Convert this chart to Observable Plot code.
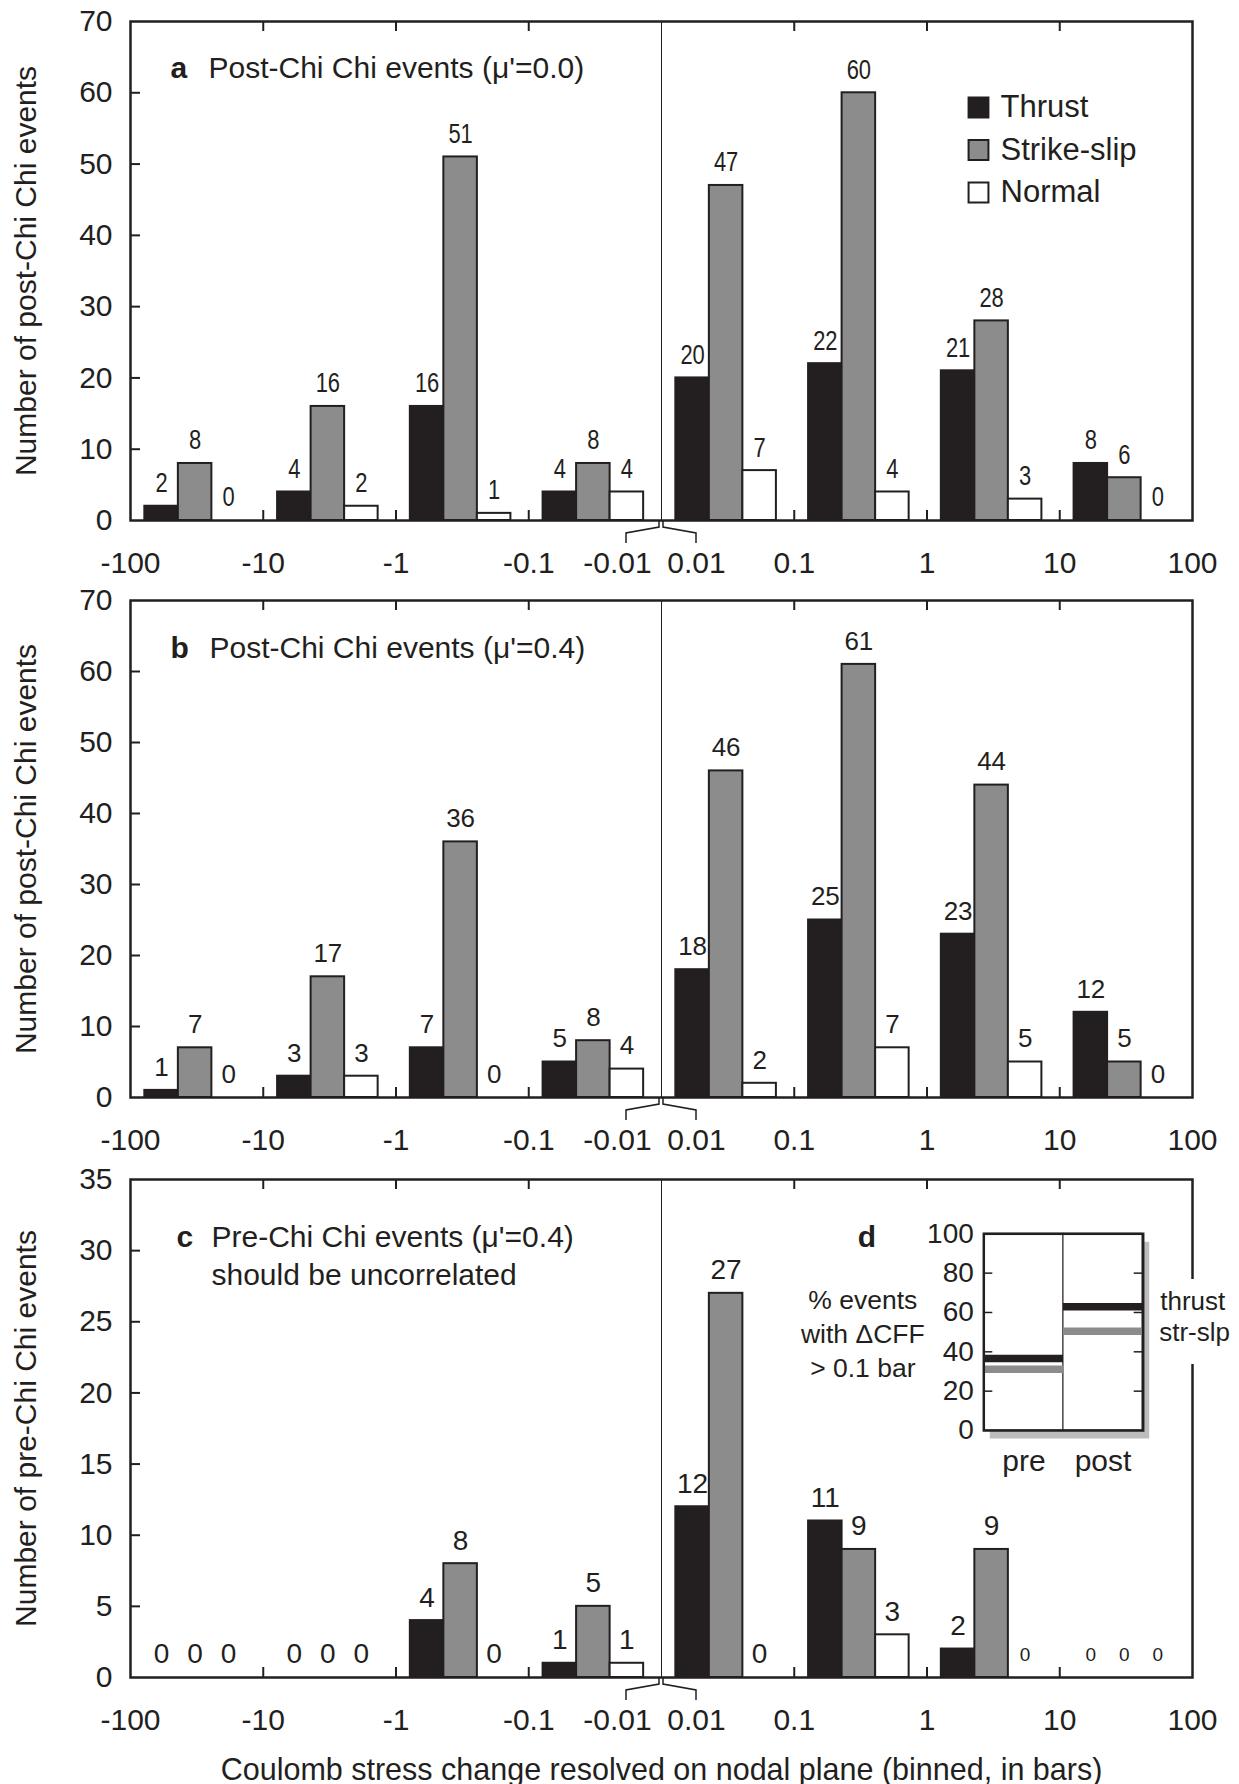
<!DOCTYPE html>
<html><head><meta charset="utf-8">
<script src="https://cdn.jsdelivr.net/npm/d3@7"></script>
<script src="https://cdn.jsdelivr.net/npm/@observablehq/plot@0.6"></script>
<style>
body{margin:0;background:#fff;}
#fig{position:relative;width:1239px;height:1784px;background:#fff;}
#fig svg{position:absolute;left:0;overflow:visible;}
</style></head><body><div id="fig"></div>
<script>
// ---------- data ----------
const bins = ["-100 to -10","-10 to -1","-1 to -0.1","-0.1 to -0.01","0.01 to 0.1","0.1 to 1","1 to 10","10 to 100"];
const types = ["Thrust","Strike-slip","Normal"];
const xTickLabels = ["-100","-10","-1","-0.1","-0.01","0.01","0.1","1","10","100"];

const aThrust = [2,4,16,4,20,22,21,8];
const aStrike = [8,16,51,8,47,60,28,6];
const aNormal = [0,2,1,4,7,4,3,0];

const bThrust = [1,3,7,5,18,25,23,12];
const bStrike = [7,17,36,8,46,61,44,5];
const bNormal = [0,3,0,4,2,7,5,0];

const cThrust = [0,0,4,1,12,11,2,0];
const cStrike = [0,0,8,5,27,9,9,0];
const cNormal = [0,0,0,1,0,3,0,0];

const dPeriods = ["pre","post"];
const dThrustPct = [36.6, 62.9];
const dStrikePct = [31.1, 50.4];

// ---------- styles ----------
const FONT = "'Liberation Sans', Arial, Helvetica, sans-serif";
const CONDENSED_FONT = "'Liberation Sans', Arial, sans-serif";
const INK = "#231f20";
const GRAY = "#8c8c8c";
const fills = {"Thrust": INK, "Strike-slip": GRAY, "Normal": "#ffffff"};
const BAR_OFFSET = 0.108, BAR_W = 0.2525;
const W = 1239, FRAME_LEFT = 130, FRAME_RIGHT = 1192;
const fig = document.getElementById("fig");

function rows(series){
  return bins.flatMap((b,i) => types.map((t,k) => ({bin:i, type:t, k, value: series[k][i]})));
}

function panel(o){
  const data = rows(o.series);
  const frameH = o.height - o.mt - o.mb;
  const frameW = FRAME_RIGHT - FRAME_LEFT;
  const mid = bins.length / 2;
  const x1 = d => d.bin + BAR_OFFSET + d.k * BAR_W;
  const x2 = d => x1(d) + BAR_W;
  const xc = d => x1(d) + BAR_W / 2;
  const yTicks = d3.range(0, o.yMax + 1e-9, o.yStep);
  const xTicks = xTickLabels.map((label, i) => ({label, pos: i <= mid ? i : i - 1, i}));
  const inner = d3.range(1, bins.length).filter(i => i !== mid);
  const small = o.smallZero || (() => false);
  const marks = [
    Plot.rect(data.filter(d => d.value > 0), {x1, x2, y1: 0, y2: "value", fill: d => fills[d.type], stroke: INK, strokeWidth: 2}),
    Plot.ruleX([mid], {stroke: INK, strokeWidth: 1}),
    Plot.ruleX(inner, {insetTop: frameH - 10, stroke: INK, strokeWidth: 2}),
    Plot.ruleX(inner, {insetBottom: frameH - 10, stroke: INK, strokeWidth: 2}),
    Plot.ruleY(yTicks.slice(1, -1), {insetRight: frameW - 10, stroke: INK, strokeWidth: 2}),
    Plot.frame({stroke: INK, strokeWidth: 2.5}),
    // value labels
    Plot.text(data.filter(d => !small(d)), {x: xc, y: "value", text: d => String(d.value),
      fontFamily: o.condensed ? CONDENSED_FONT : FONT,
      textAnchor: "middle", lineAnchor: "middle", fontSize: o.labelSize, fill: INK, dy: -23}),
    Plot.text(data.filter(d => small(d)), {x: xc, y: "value", text: d => String(d.value),
      textAnchor: "middle", lineAnchor: "middle", fontSize: 19, fill: INK, dy: -23}),
    // y tick labels
    Plot.text(yTicks, {y: d => d, text: d => String(d), frameAnchor: "left", dx: -18, textAnchor: "end", lineAnchor: "middle", fontSize: 30, fill: INK}),
    // x tick labels
    Plot.text(xTicks.filter(t => t.pos !== mid), {x: "pos", text: "label", frameAnchor: "bottom", dy: 43, textAnchor: "middle", lineAnchor: "middle", fontSize: 30, fill: INK}),
    Plot.text(xTicks.filter(t => t.i === mid), {x: "pos", text: "label", frameAnchor: "bottom", dy: 43, dx: -44, textAnchor: "middle", lineAnchor: "middle", fontSize: 30, fill: INK}),
    Plot.text(xTicks.filter(t => t.i === mid + 1), {x: "pos", text: "label", frameAnchor: "bottom", dy: 43, dx: 35, textAnchor: "middle", lineAnchor: "middle", fontSize: 30, fill: INK}),
    // y label
    Plot.text([o.yLabel], {frameAnchor: "left", rotate: -90, dx: -104, textAnchor: "middle", lineAnchor: "middle", fontSize: 30, fill: INK}),
    // title
    Plot.text([o.letter], {frameAnchor: "top-left", dx: o.letterDx, dy: o.titleDy, textAnchor: "start", lineAnchor: "middle", fontSize: 30, fontWeight: "bold", fill: INK}),
    ...o.titleLines.map((t, j) => Plot.text([t], {frameAnchor: "top-left", dx: o.titleDx, dy: o.titleDy + j * 38, textAnchor: "start", lineAnchor: "middle", fontSize: 30, fill: INK}))
  ];
  if (o.extra) marks.push(...o.extra);
  const plot = Plot.plot({
    width: W, height: o.height,
    marginLeft: FRAME_LEFT, marginRight: W - FRAME_RIGHT, marginTop: o.mt, marginBottom: o.mb,
    x: {domain: [0, bins.length], axis: null},
    y: {domain: [0, o.yMax], axis: null},
    style: {fontFamily: FONT, fontSize: "30px", color: INK, background: "transparent", overflow: "visible"},
    marks
  });
  plot.style.top = o.top + "px";
  const svg = d3.select(plot);
  // condensed value labels (panel a uses a narrow face)
  if (o.condensed) {
    svg.selectAll("g").filter(function(){ return this.getAttribute("font-family") === CONDENSED_FONT; })
      .selectAll("text").each(function(){
        const n = this.textContent.length;
        d3.select(this).attr("textLength", n * o.condensed).attr("lengthAdjust", "spacingAndGlyphs");
      });
  }
  // bracket marks at the broken centre of the axis
  const sx = plot.scale("x").apply(mid);
  const yb = o.height - o.mb;
  svg.append("path")
    .attr("d", `M${sx-35},${yb+23}V${yb+13}L${sx-2},${yb+7}V${yb+1}M${sx+2},${yb+1}V${yb+7}L${sx+35},${yb+13}V${yb+23}`)
    .attr("fill", "none").attr("stroke", INK).attr("stroke-width", 1.5);
  fig.appendChild(plot);
  return plot;
}

// legend (panel a)
const legendMarks = types.flatMap((t, j) => [
  Plot.dot([t], {frameAnchor: "top-left", dx: 848, dy: 86 + j * 42.5, symbol: "square", r: 11.2, fill: fills[t], stroke: INK, strokeWidth: 2}),
  Plot.text([t], {frameAnchor: "top-left", dx: 870, dy: 86 + j * 42.5, textAnchor: "start", lineAnchor: "middle", fontSize: 31, fill: INK})
]);

panel({top: 0, height: 585, mt: 21, mb: 65, yMax: 70, yStep: 10,
  series: [aThrust, aStrike, aNormal], labelSize: 28, condensed: 12.2,
  yLabel: "Number of post-Chi Chi events", letter: "a", letterDx: 40, titleDx: 78, titleDy: 47,
  titleLines: ["Post-Chi Chi events (μ'=0.0)"], extra: legendMarks});

panel({top: 585, height: 575, mt: 15, mb: 63, yMax: 70, yStep: 10,
  series: [bThrust, bStrike, bNormal], labelSize: 26,
  yLabel: "Number of post-Chi Chi events", letter: "b", letterDx: 40, titleDx: 79, titleDy: 48,
  titleLines: ["Post-Chi Chi events (μ'=0.4)"]});

const cSmallZeroFromBin = 6;
panel({top: 1160, height: 624, mt: 19, mb: 107, yMax: 35, yStep: 5,
  series: [cThrust, cStrike, cNormal], labelSize: 28,
  smallZero: d => d.value === 0 && d.bin >= cSmallZeroFromBin,
  yLabel: "Number of pre-Chi Chi events", letter: "c", letterDx: 46, titleDx: 81, titleDy: 58,
  titleLines: ["Pre-Chi Chi events (μ'=0.4)", "should be uncorrelated"],
  extra: [Plot.text(["Coulomb stress change resolved on nodal plane (binned, in bars)"], {frameAnchor: "bottom", dy: 93, textAnchor: "middle", lineAnchor: "middle", fontSize: 30.5, fill: INK})]});

// ---------- inset d ----------
const dRows = dPeriods.flatMap((p, i) => [
  {period: p, type: "thrust", pct: dThrustPct[i]},
  {period: p, type: "str-slp", pct: dStrikePct[i]}
]);
const IL = 820, IT = 1200, IW = 419, IH = 280;
const iml = 983.3 - IL, imr = IL + IW - 1142.7, imt = 1233.3 - IT, imb = IT + IH - 1430;
const iFrameW = IW - iml - imr;
const inset = Plot.plot({
  width: IW, height: IH, marginLeft: iml, marginRight: imr, marginTop: imt, marginBottom: imb,
  x: {domain: dPeriods, padding: 0, axis: null},
  y: {domain: [0, 100], axis: null},
  style: {fontFamily: FONT, fontSize: "28px", color: INK, background: "transparent", overflow: "visible"},
  marks: [
    Plot.frame({fill: "#bdbdbd", stroke: "none", dx: 6, dy: 8}),
    Plot.frame({fill: "#ffffff", stroke: "none"}),
    Plot.barY(dPeriods, {x: d => d, y1: 0, y2: 100, fill: "#ffffff", stroke: INK, strokeWidth: 1}),
    Plot.ruleY([20, 40, 60, 80], {insetRight: iFrameW - 9, stroke: INK, strokeWidth: 1.5}),
    Plot.ruleY([20, 40, 60, 80], {insetLeft: iFrameW - 9, stroke: INK, strokeWidth: 1.5}),
    Plot.tickY(dRows, {x: "period", y: "pct", stroke: d => d.type === "thrust" ? INK : GRAY, strokeWidth: 7.5}),
    Plot.frame({stroke: INK, strokeWidth: 2.5}),
    Plot.text([0, 20, 40, 60, 80, 100], {y: d => d, text: d => String(d), frameAnchor: "left", dx: -10, textAnchor: "end", lineAnchor: "middle", fontSize: 28, fill: INK}),
    Plot.text(dPeriods, {x: d => d, text: d => d, frameAnchor: "bottom", dy: 31, textAnchor: "middle", lineAnchor: "middle", fontSize: 30, fill: INK}),
    Plot.text(["d"], {frameAnchor: "top-left", dx: -117, dy: 4, textAnchor: "middle", lineAnchor: "middle", fontSize: 30, fontWeight: "bold", fill: INK}),
    Plot.text(["% events\nwith ΔCFF\n> 0.1 bar"], {frameAnchor: "top-left", dx: -121, dy: 98, textAnchor: "middle", lineAnchor: "middle", lineHeight: 1.28, fontSize: 26.5, fill: INK}),
    Plot.text(["thrust"], {frameAnchor: "top-right", dx: 17, dy: 68, textAnchor: "start", lineAnchor: "middle", fontSize: 26, fill: INK}),
    Plot.text(["str-slp"], {frameAnchor: "top-right", dx: 16, dy: 99, textAnchor: "start", lineAnchor: "middle", fontSize: 26, fill: INK})
  ]
});
inset.style.top = IT + "px";
inset.style.left = IL + "px";
// white gap in panel c's right frame edge behind the inset's labels
d3.select(inset).insert("rect", ":first-child")
  .attr("x", 1150 - IL).attr("y", 1279 - IT).attr("width", 80).attr("height", 85).attr("fill", "#ffffff");
fig.appendChild(inset);
</script></body></html>
